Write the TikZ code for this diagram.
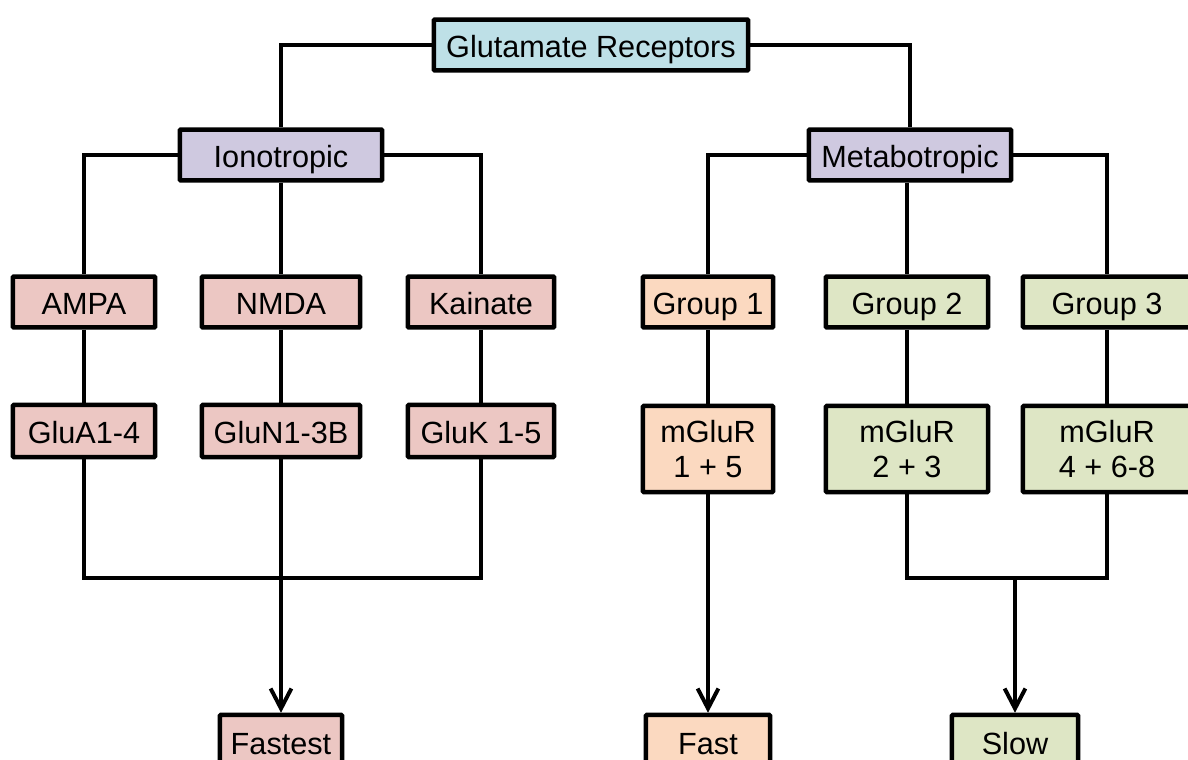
\documentclass[tikz,border=0pt]{standalone}
\usepackage{fontspec}
\setmainfont{Liberation Sans}
\usepackage{tikz}
\usetikzlibrary{arrows.meta, positioning}
\definecolor{glublue}{RGB}{190, 224, 231}
\definecolor{glulilac}{RGB}{207, 201, 224}
\definecolor{glupink}{RGB}{236, 199, 195}
\definecolor{glupeach}{RGB}{251, 217, 192}
\definecolor{glugreen}{RGB}{222, 230, 197}
\tikzset{
	recbox/.style={draw, line width=3.2pt, rounded corners=0.6pt, inner sep=0pt,
		minimum height=1.27cm, align=center, text height=18pt, text depth=0pt,
		font=\fontsize{21.8}{25}\selectfont},
	twoline/.style={text height=, text depth=, minimum height=2.15cm},
	wire/.style={line width=2.8pt},
	flowarrow/.style={line width=2.8pt, -{Straight Barb[length=0.5cm, width=0.52cm]}}
}

\begin{document}
\begin{tikzpicture}[x=0.025cm, y=-0.025cm]
	\useasboundingbox (0,0) rectangle (1188,760);
	% top level
	\node[recbox, fill=glublue, minimum width=7.85cm] (glu) at (591,45) {Glutamate Receptors};
	\node[recbox, fill=glulilac, minimum width=5.05cm] (iono) at (281,155) {Ionotropic};
	\node[recbox, fill=glulilac, minimum width=5.05cm] (meta) at (910,155) {Metabotropic};
	% ionotropic branch
	\node[recbox, fill=glupink, minimum width=3.55cm] (ampa) at (84,302) {AMPA};
	\node[recbox, fill=glupink, minimum width=3.95cm] (nmda) at (281,302) {NMDA};
	\node[recbox, fill=glupink, minimum width=3.65cm] (kain) at (481,302) {Kainate};
	\node[recbox, fill=glupink, minimum width=3.55cm, minimum height=1.3cm] (glua) at (84,431) {GluA1-4};
	\node[recbox, fill=glupink, minimum width=3.95cm, minimum height=1.3cm] (glun) at (281,431) {GluN1-3B};
	\node[recbox, fill=glupink, minimum width=3.65cm, minimum height=1.3cm] (gluk) at (481,431) {GluK 1-5};
	\node[recbox, fill=glupink, minimum width=3.05cm, minimum height=1.35cm] (fastest) at (281,742) {Fastest};
	% metabotropic branch
	\node[recbox, fill=glupeach, minimum width=3.25cm] (grp1) at (708,302) {Group 1};
	\node[recbox, fill=glugreen, minimum width=4.05cm] (grp2) at (907,302) {Group 2};
	\node[recbox, fill=glugreen, minimum width=4.2cm] (grp3) at (1107,302) {Group 3};
	\node[recbox, twoline, fill=glupeach, minimum width=3.25cm] (mglu1) at (708,449) {mGluR\\1 + 5};
	\node[recbox, twoline, fill=glugreen, minimum width=4.05cm] (mglu2) at (907,449) {mGluR\\2 + 3};
	\node[recbox, twoline, fill=glugreen, minimum width=4.2cm] (mglu3) at (1107,449) {mGluR\\4 + 6-8};
	\node[recbox, fill=glupeach, minimum width=3.1cm, minimum height=1.35cm] (fast) at (708,742) {Fast};
	\node[recbox, fill=glugreen, minimum width=3.15cm, minimum height=1.35cm] (slow) at (1015,742) {Slow};
	\coordinate (jnion) at (281,578);
	\coordinate (jnmet) at (1015,578);

	% connectors
	\draw[wire] (glu.west) -| (iono.north);
	\draw[wire] (glu.east) -| (meta.north);
	\draw[wire] (iono.west) -| (ampa.north);
	\draw[wire] (iono.south) -- (nmda.north);
	\draw[wire] (iono.east) -| (kain.north);
	\draw[wire] (meta.west) -| (grp1.north);
	\draw[wire] (meta.south -| grp2.north) -- (grp2.north);
	\draw[wire] (meta.east) -| (grp3.north);
	\draw[wire] (ampa) -- (glua);
	\draw[wire] (nmda) -- (glun);
	\draw[wire] (kain) -- (gluk);
	\draw[wire] (grp1) -- (mglu1);
	\draw[wire] (grp2) -- (mglu2);
	\draw[wire] (grp3) -- (mglu3);
	\draw[wire] (glua.south) |- (jnion) -| (gluk.south);
	\draw[flowarrow] (glun.south) -- (fastest.north);
	\draw[flowarrow] (mglu1.south) -- (fast.north);
	\draw[wire] (mglu2.south) |- (jnmet) -| (mglu3.south);
	\draw[flowarrow] (jnmet) -- (slow.north);
\end{tikzpicture}
\end{document}
